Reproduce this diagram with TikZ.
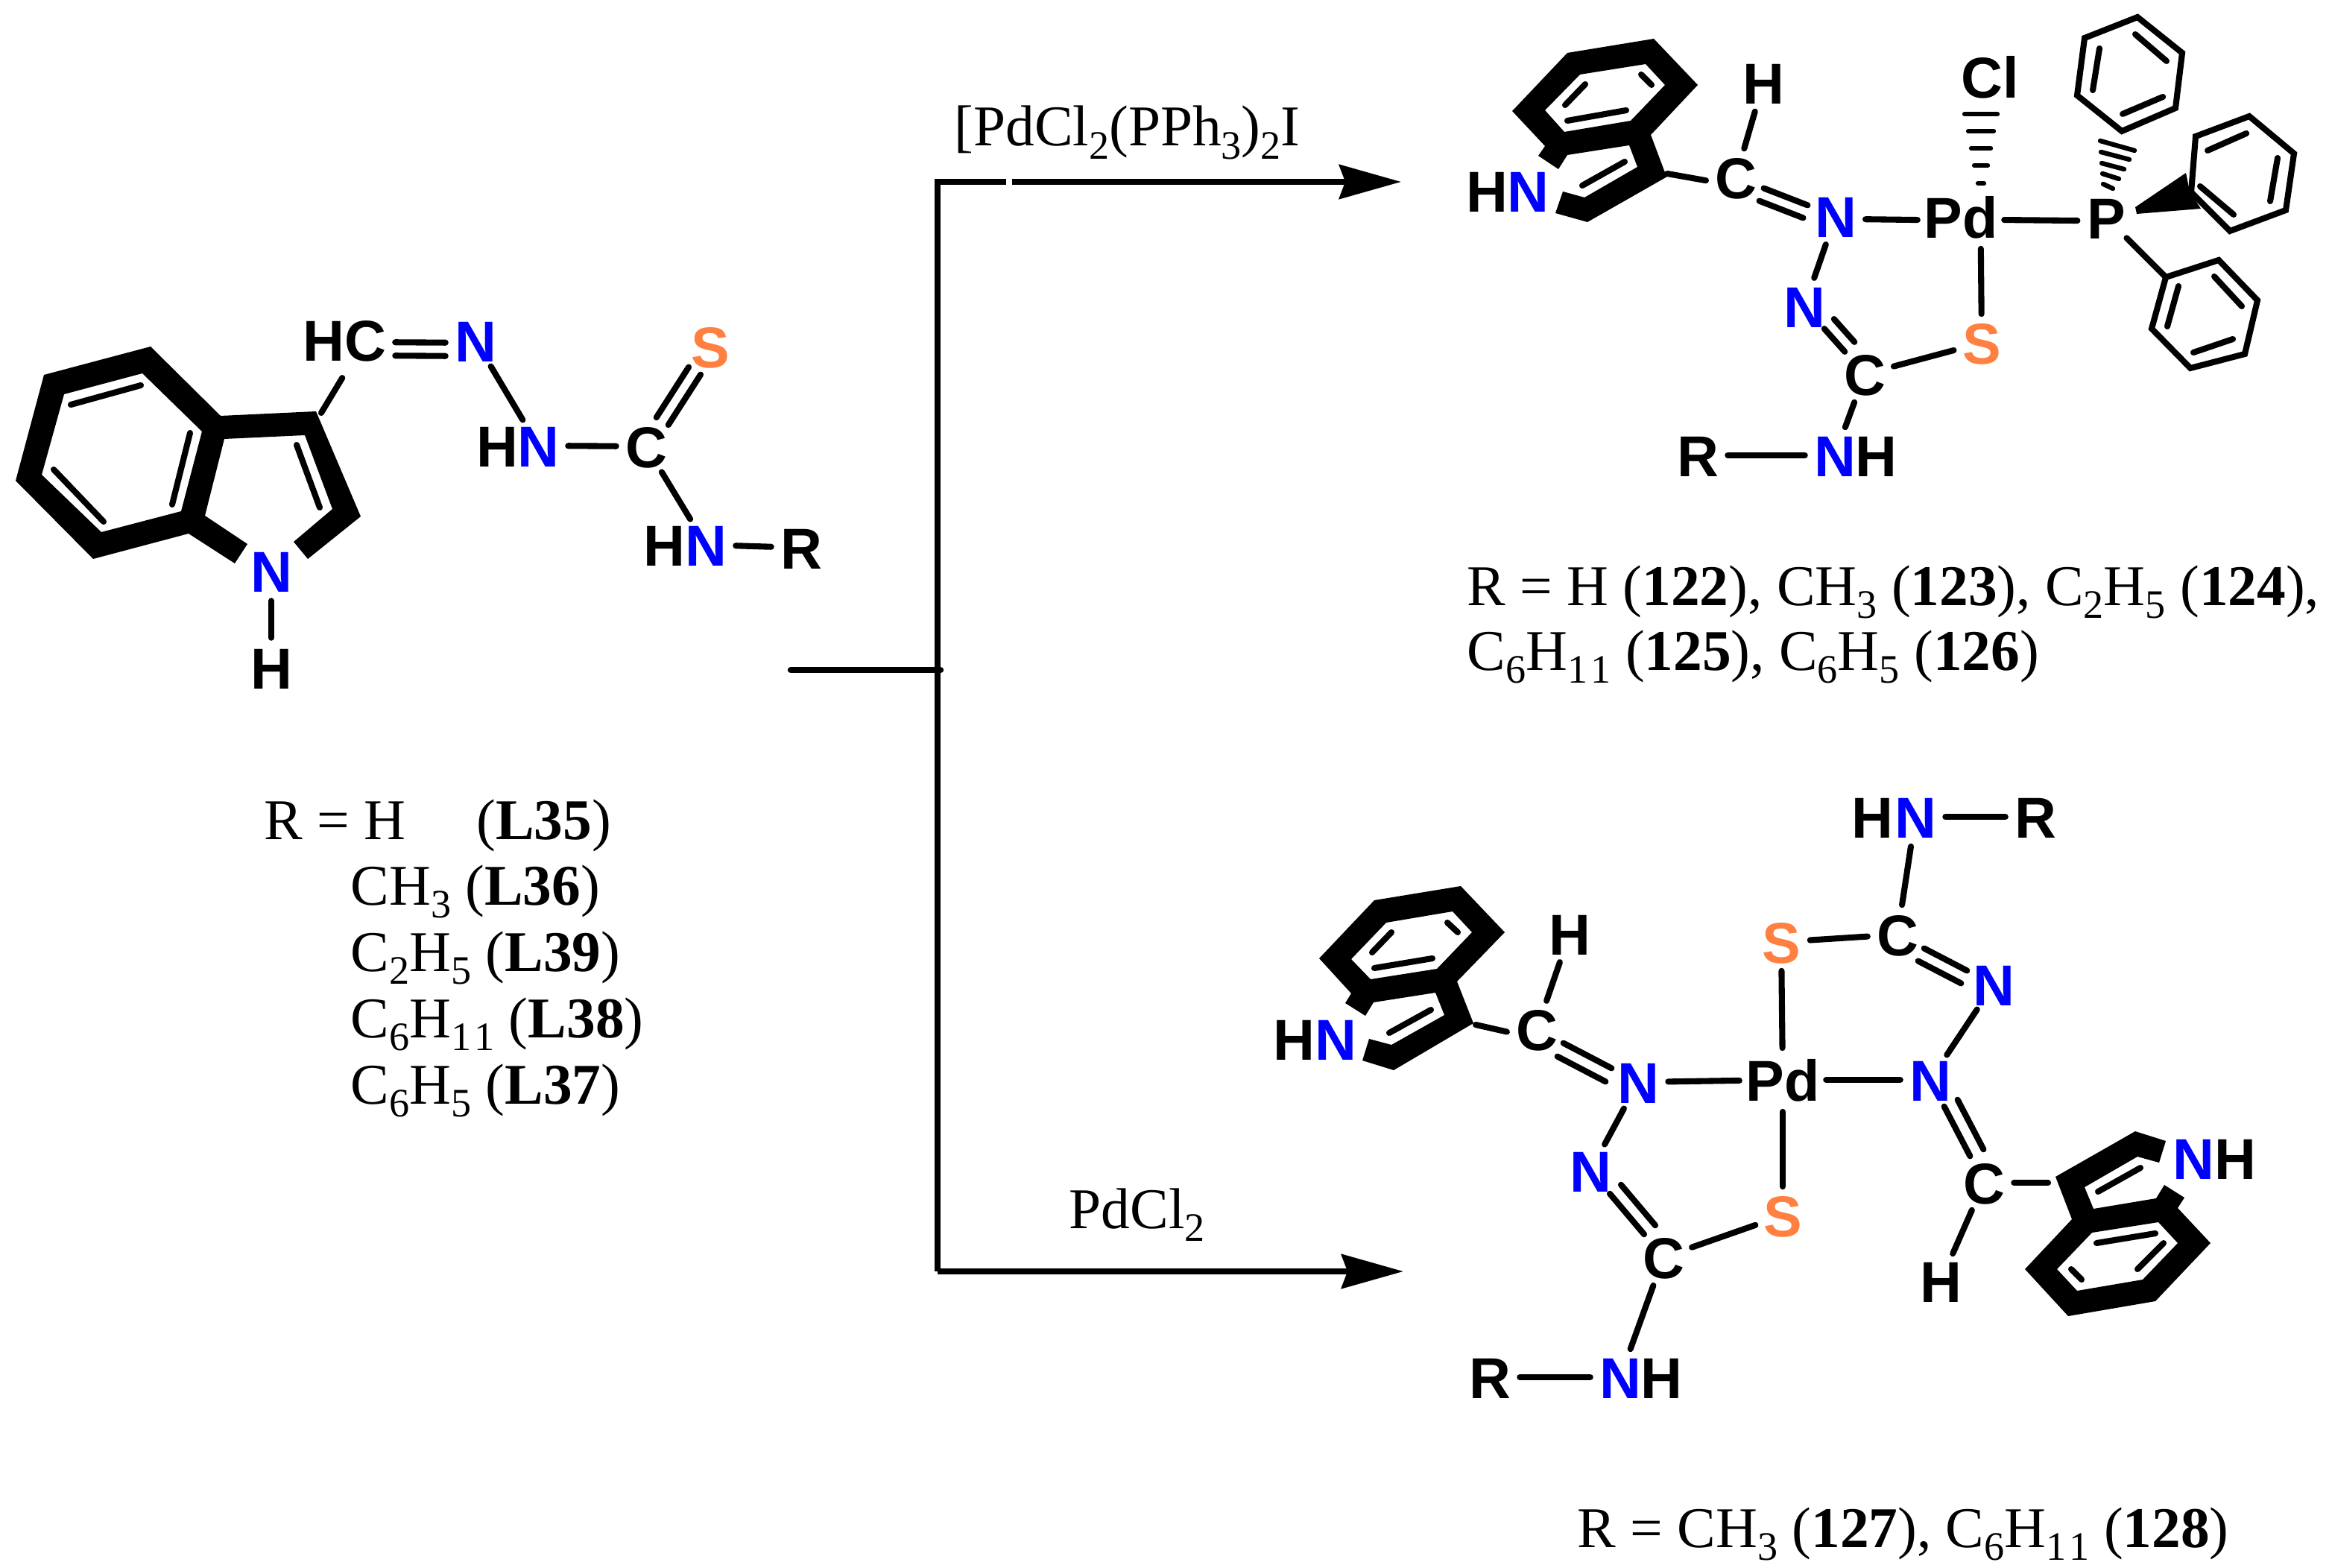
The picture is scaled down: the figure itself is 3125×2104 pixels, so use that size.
\documentclass[tikz,border=0pt]{standalone}
\usepackage{fontspec}
\setmainfont{Liberation Serif}
\setsansfont{Liberation Sans}
\usetikzlibrary{arrows.meta}
\definecolor{nitro}{RGB}{0,0,255}
\definecolor{sulfur}{RGB}{255,128,64}
\newcommand{\lowsub}[1]{\raisebox{-5pt}{\fontsize{15.4pt}{16pt}\selectfont #1}}
\tikzset{
	atom/.style={circle,inner sep=0pt,text height=16pt,text depth=0pt,font=\sffamily\bfseries\fontsize{22pt}{24pt}\selectfont},
	metal/.style={atom,rectangle,inner xsep=2.3pt,inner ysep=4pt},
	bond/.style={line width=2.3pt,line cap=round},
	hash/.style={line width=1.8pt,line cap=round},
	ring/.style={line width=2.3pt,line join=miter},
	rxn/.style={line width=2.4pt},
	caption/.style={anchor=base west,inner sep=0pt,font=\fontsize{22pt}{24pt}\selectfont}
}
\begin{document}
\begin{tikzpicture}[x=.01cm,y=-.01cm,>={Stealth[length=23.6pt,width=13pt,inset=2.3pt]}]
	\useasboundingbox (0,0) rectangle (3125,2104);
	% atoms
	\foreach \n/\x/\y/\c/\t in {
		H1a/434/456/black/H,C1a/490/456/black/C,N1a/638/457/nitro/N,S1/953/465/sulfur/S,
		H1b/667/598/black/H,N1b/722/598/nitro/N,C1b/867/599/black/C,
		H1c/891/731/black/H,N1c/947/731/nitro/N,R1/1075/735/black/R,
		N1d/364/766/nitro/N,H1d/364/896/black/H,
		H2a/2366/111/black/H,C2a/2329/238/black/C,H2b/1995/256/black/H,N2b/2050/256/nitro/N,
		N2a/2463/290/nitro/N,N2c/2421/411/nitro/N,C2b/2502/502/black/C,S2/2659/460/sulfur/S,
		N2d/2462/611/nitro/N,H2d/2517/611/black/H,R2/2278/611/black/R,
		Cl/2670/103/black/Cl,P/2826/292/black/P,
		H3a/2106/1253/black/H,C3a/2062/1381/black/C,H3b/1736/1394/black/H,N3b/1792/1394/nitro/N,
		N3a/2198/1452/nitro/N,N3c/2134/1571/nitro/N,C3b/2232/1687/black/C,S3a/2392/1631/sulfur/S,
		N3d/2174/1848/nitro/N,H3d/2229/1848/black/H,R3a/1999/1848/black/R,
		S3b/2390/1264/sulfur/S,C3c/2546/1254/black/C,H3e/2512/1096/black/H,N3e/2570/1096/nitro/N,
		R3b/2731/1096/black/R,N3f/2675/1321/nitro/N,N3g/2590/1449/nitro/N,C3d/2662/1587/black/C,
		H3f/2604/1719/black/H,N3h/2943/1554/nitro/N,H3h/2999/1554/black/H}{
		\node[atom,text=\c] (\n) at (\x,\y) {\t};}
	\node[metal] (Pd2) at (2631,291) {Pd};
	\node[metal] (Pd3) at (2392,1449) {Pd};
	% indole rings
	\path (431,554) coordinate (I1) (2237,233) coordinate (I2)
		(1980,1375) coordinate (I3) (2748,1587) coordinate (I4)
		(2906,372) coordinate (Ph);
	\fill[even odd rule] (202,465)--(59,503)--(21,645)--(125,750)--(253,716)--(315,756)--(332,730)--(275,692)
		--(301,589)--(409,584)--(446,683)--(394,727)--(413,750)--(484,693)--(424,552)--(296,558)--cycle
		(191,501)--(86,529)--(56,637)--(136,714)--(243,686)--(271,579)--cycle;
	\fill[even odd rule] (2219,52)--(2103,71)--(2029,149)--(2073,196)--(2064,209)--(2091,227)--(2103,208)--(2186,195)
		--(2197,224)--(2126,265)--(2097,257)--(2087,286)--(2130,298)--(2237,237)--(2233,229)--(2215,181)--(2278,114)--cycle
		(2208,86)--(2120,100)--(2073,148)--(2099,177)--(2188,162)--(2234,114)--cycle;
	\fill[even odd rule] (1960,1189)--(1844,1208)--(1770,1286)--(1813,1333)--(1805,1346)--(1832,1363)--(1843,1345)--(1926,1332)
		--(1938,1362)--(1867,1402)--(1837,1394)--(1828,1423)--(1870,1436)--(1977,1373)--(1955,1317)--(2019,1251)--cycle
		(1949,1223)--(1860,1238)--(1813,1287)--(1839,1314)--(1928,1300)--(1975,1251)--cycle;
	\fill[even odd rule] (2758,1579)--(2865,1518)--(2906,1531)--(2897,1560)--(2868,1552)--(2797,1593)--(2809,1622)--(2893,1608)
		--(2904,1590)--(2931,1607)--(2922,1621)--(2966,1668)--(2892,1746)--(2775,1766)--(2717,1703)--(2780,1636)--cycle
		(2896,1640)--(2807,1654)--(2760,1703)--(2787,1732)--(2875,1717)--(2922,1668)--cycle;
	\draw[bond] (95,543)--(189,517) (255,581)--(231,677) (72,630)--(139,700) (398,597)--(429,681)
		(2202,100)--(2216,114) (2127,113)--(2100,141) (2103,162)--(2182,148) (2180,217)--(2123,249)
		(1942,1238)--(1956,1251) (1867,1251)--(1841,1278) (1844,1299)--(1922,1286) (1920,1355)--(1864,1386)
		(2813,1668)--(2892,1655) (2903,1668)--(2868,1703) (2779,1703)--(2793,1717) (2815,1599)--(2872,1567);
	% phenyl rings
	\draw[ring] (2868,23)--(2928,71)--(2919,145)--(2847,176)--(2787,128)--(2797,51)--cycle;
	\draw[ring] (3018,156)--(3078,206)--(3067,282)--(2992,310)--(2940,258)--(2946,183)--cycle;
	\draw[ring] (Ph)--(2977,349)--(3029,403)--(3012,475)--(2939,494)--(2887,441)--cycle;
	\draw[bond] (2865,46)--(2907,82) (2848,153)--(2902,130) (2808,121)--(2817,65)
		(2962,202)--(3014,179) (3056,212)--(3046,270) (2952,250)--(2997,288)
		(2971,371)--(3008,411) (2996,455)--(2943,473) (2923,384)--(2908,438);
	% wedge and hash
	\fill (2865,278)--(2933,232)--(2938,257)--(2953,280)--(2867,287)--cycle;
	\foreach \y/\w in {153/22,176/17,199/13,222/9,246/4}{
		\draw[hash] (2658-\w,\y)--(2658+\w,\y);}
	\draw[hash] (2818,189)--(2864,202) (2819,204)--(2857,214) (2820,219)--(2850,227) (2821,233)--(2843,240) (2822,247)--(2835,253);
	% bonds
	\foreach \a/\b in {N1a/N1b,N1b/C1b,C1b/N1c,N1c/R1,N1d/H1d,
		C2a/H2a,C2a/N2a,N2a/N2c,N2c/C2b,C2b/S2,C2b/N2d,R2/N2d,P/Ph,
		C3a/H3a,C3a/N3a,N3a/Pd3,Pd3/N3g,N3a/N3c,N3c/C3b,C3b/S3a,C3b/N3d,R3a/N3d,Pd3/S3a,Pd3/S3b,
		S3b/C3c,C3c/N3e,N3e/R3b,C3c/N3f,N3f/N3g,N3g/C3d,C3d/H3f,C3d/I4}{
		\draw[bond] (\a)--(\b);}
	\draw[bond] (N2a.-6)--(Pd2.184);
	\draw[bond] (Pd2.-4)--(P.186);
	\draw[bond] (Pd2.-58)--(S2);
	\draw[bond] (I2)--(C2a.186);
	\draw[bond] (I3)--(C3a.185);
	\draw[bond,shorten >=5.5pt] (I1)--(C1a);
	% second strokes of double bonds
	\foreach \a/\b/\dx/\dy in {C1a/N1a/0/3,C1a/N1a/0/21,C1b/S1/8/5,C1b/S1/-8/-5,
		C2a/N2a/-6/17,N2c/C2b/13/-13,C3a/N3a/-8/18,C3c/N3f/-8/17,N3g/C3d/18/-9,N3c/C3b/15/-12}{
		\draw[bond,transform canvas={shift={(\dx,\dy)}}] (\a)--(\b);}
	% arrows
	\path (1061,899) coordinate (s0) (1262,899) coordinate (s1)
		(1258,244) coordinate (v0) (1258,1706) coordinate (v1)
		(1350,244) coordinate (g0) (1358,244) coordinate (g1)
		(1880,244) coordinate (e0) (1883,1706) coordinate (e1);
	\draw[rxn,line cap=round] (s0)--(s1);
	\draw[rxn] (g0)--(v0)--(v1);
	\draw[rxn,->] (v1)--(e1);
	\draw[rxn,->] (g1)--(e0);
	% texts
	\node[caption] (t1) at (1280,196) {[PdCl\lowsub{2}(PPh\lowsub{3})\lowsub{2}I};
	\node[caption] (t2) at (1434,1648) {PdCl\lowsub{2}};
	\node[caption] (a1) at (354,1126) {R = H\hspace{27pt}(\textbf{L35})};
	\node[caption] (a2) at (470,1214) {CH\lowsub{3} (\textbf{L36})};
	\node[caption] (a3) at (470,1303) {C\lowsub{2}H\lowsub{5} (\textbf{L39})};
	\node[caption] (a4) at (470,1392) {C\lowsub{6}H\lowsub{1\kern1.2pt 1} (\textbf{L38})};
	\node[caption] (a5) at (470,1481) {C\lowsub{6}H\lowsub{5} (\textbf{L37})};
	\node[caption] (b1) at (1968,812) {R = H (\textbf{122}), CH\lowsub{3} (\textbf{123}), C\lowsub{2}H\lowsub{5} (\textbf{124}),};
	\node[caption] (b2) at (1968,899) {C\lowsub{6}H\lowsub{1\kern1.2pt 1} (\textbf{125}), C\lowsub{6}H\lowsub{5} (\textbf{126})};
	\node[caption] (c1) at (2116,2076) {R = CH\lowsub{3} (\textbf{127}), C\lowsub{6}H\lowsub{1\kern1.2pt 1} (\textbf{128})};
\end{tikzpicture}
\end{document}
